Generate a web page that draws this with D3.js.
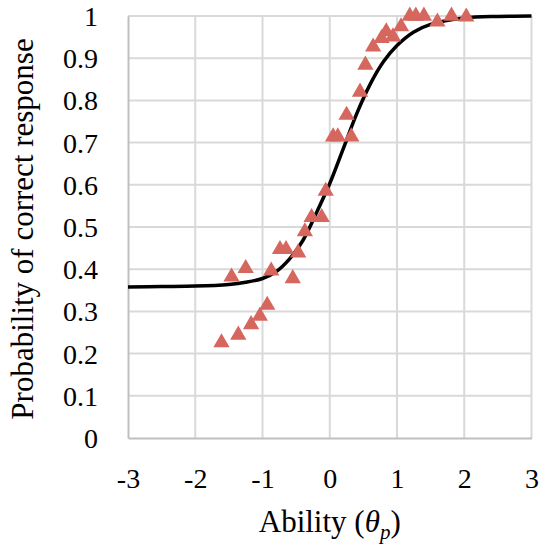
<!DOCTYPE html>
<html>
<head>
<meta charset="utf-8">
<script src="https://cdn.jsdelivr.net/npm/d3@7"></script>
<style>
  html, body { margin: 0; padding: 0; background: #fff; }
  svg { display: block; }
  text { font-family: "Liberation Serif", "Times New Roman", serif; fill: #000; }
</style>
</head>
<body>
<script>
// ---- data ----
const xTicks = [-3, -2, -1, 0, 1, 2, 3];
const yTicks = [0, 0.1, 0.2, 0.3, 0.4, 0.5, 0.6, 0.7, 0.8, 0.9, 1];
const xTickLabels = ["-3", "-2", "-1", "0", "1", "2", "3"];
const yTickLabels = ["0", "0.1", "0.2", "0.3", "0.4", "0.5", "0.6", "0.7", "0.8", "0.9", "1"];

// observed proportions (triangles)
const obsAbility = [-1.61, -1.36, -1.17, -1.04, -0.93, -1.46, -1.25, -0.87, -0.55, -0.74, -0.65, -0.47,
  -0.37, -0.27, -0.12, -0.06, 0.05, 0.12, 0.32, 0.25, 0.45, 0.53, 0.645, 0.77, 0.84, 0.94, 1.06,
  1.19, 1.28, 1.40, 1.60, 1.81, 2.03];
const obsProb = [0.226, 0.244, 0.269, 0.289, 0.315, 0.382, 0.402, 0.396, 0.378, 0.447, 0.447, 0.439,
  0.489, 0.523, 0.523, 0.585, 0.714, 0.714, 0.714, 0.765, 0.82, 0.884, 0.927, 0.947, 0.963, 0.951, 0.975,
  1.0, 1.0, 1.0, 0.986, 1.0, 0.998];

// model curve
const curveAbility = [-3, -2.5, -2, -1.5, -1.25, -1.0, -0.8, -0.6, -0.4, -0.2, 0, 0.2, 0.4, 0.6, 0.8, 1.0, 1.25, 1.5, 2.0, 2.5, 3.0];
const curveProb = [0.358, 0.359, 0.36, 0.364, 0.369, 0.378, 0.394, 0.424, 0.468, 0.533, 0.603, 0.685, 0.768, 0.838, 0.892, 0.93, 0.962, 0.98, 0.995, 0.999, 1.0];

// ---- layout ----
const W = 543, H = 553;
const plot = { left: 128, right: 531.5, top: 16, bottom: 438 };

const svg = d3.select("body").append("svg").attr("width", W).attr("height", H);

const x = d3.scaleLinear().domain([-3, 3]).range([plot.left, plot.right]);
const y = d3.scaleLinear().domain([0, 1]).range([plot.bottom, plot.top]);

// gridlines
const grid = svg.append("g");
grid.selectAll("line.h").data(yTicks.filter(d => d > 0)).join("line")
  .attr("x1", plot.left).attr("x2", plot.right)
  .attr("y1", d => y(d)).attr("y2", d => y(d))
  .attr("stroke", "#d9d9d9").attr("stroke-width", 2);
grid.selectAll("line.v").data(xTicks.filter(d => d > -3)).join("line")
  .attr("class", "v")
  .attr("y1", plot.top).attr("y2", plot.bottom)
  .attr("x1", d => x(d)).attr("x2", d => x(d))
  .attr("stroke", "#d9d9d9").attr("stroke-width", 2);

// axes via d3 axis generators
const xAxis = d3.axisBottom(x).tickValues(xTicks).tickSize(0).tickPadding(0)
  .tickFormat((d, i) => xTickLabels[i]);
const gx = svg.append("g").attr("transform", `translate(0,${plot.bottom})`).call(xAxis);
gx.select(".domain").attr("stroke", "#bfbfbf").attr("stroke-width", 2);
gx.selectAll("text").attr("font-size", 28).attr("dy", null).attr("y", 50)
  .attr("font-family", "'Liberation Serif', 'Times New Roman', serif").attr("fill", "#000");

const yAxis = d3.axisLeft(y).tickValues(yTicks).tickSize(0).tickPadding(0)
  .tickFormat((d, i) => yTickLabels[i]);
const gy = svg.append("g").attr("transform", `translate(${plot.left},0)`).call(yAxis);
gy.select(".domain").attr("stroke", "#bfbfbf").attr("stroke-width", 2);
gy.selectAll("text").attr("font-size", 28).attr("x", -30).attr("dy", "0.34em")
  .attr("font-family", "'Liberation Serif', 'Times New Roman', serif").attr("fill", "#000");

// curve
const line = d3.line().x((d, i) => x(curveAbility[i])).y(d => y(d)).curve(d3.curveCatmullRom.alpha(0.5));
svg.append("path").datum(curveProb).attr("d", line)
  .attr("fill", "none").attr("stroke", "#000").attr("stroke-width", 3.5);

// triangles
const tri = d3.symbol().type(d3.symbolTriangle).size(115);
svg.append("g").selectAll("path").data(obsProb).join("path")
  .attr("d", tri)
  .attr("transform", (d, i) => `translate(${x(obsAbility[i])},${y(d)})`)
  .attr("fill", "#d5675e");

// axis titles
svg.append("text")
  .attr("transform", `translate(33,${(plot.top + plot.bottom) / 2 + 2}) rotate(-90)`)
  .attr("text-anchor", "middle").attr("font-size", 31)
  .text("Probability of correct response");

const xt = svg.append("text").attr("x", x(0)).attr("y", 532)
  .attr("text-anchor", "middle").attr("font-size", 31);
xt.append("tspan").text("Ability (");
xt.append("tspan").attr("font-style", "italic").text("θ");
xt.append("tspan").attr("font-style", "italic").attr("font-size", 21).attr("dy", 7).text("p");
xt.append("tspan").attr("dy", -7).text(")");
</script>
</body>
</html>
